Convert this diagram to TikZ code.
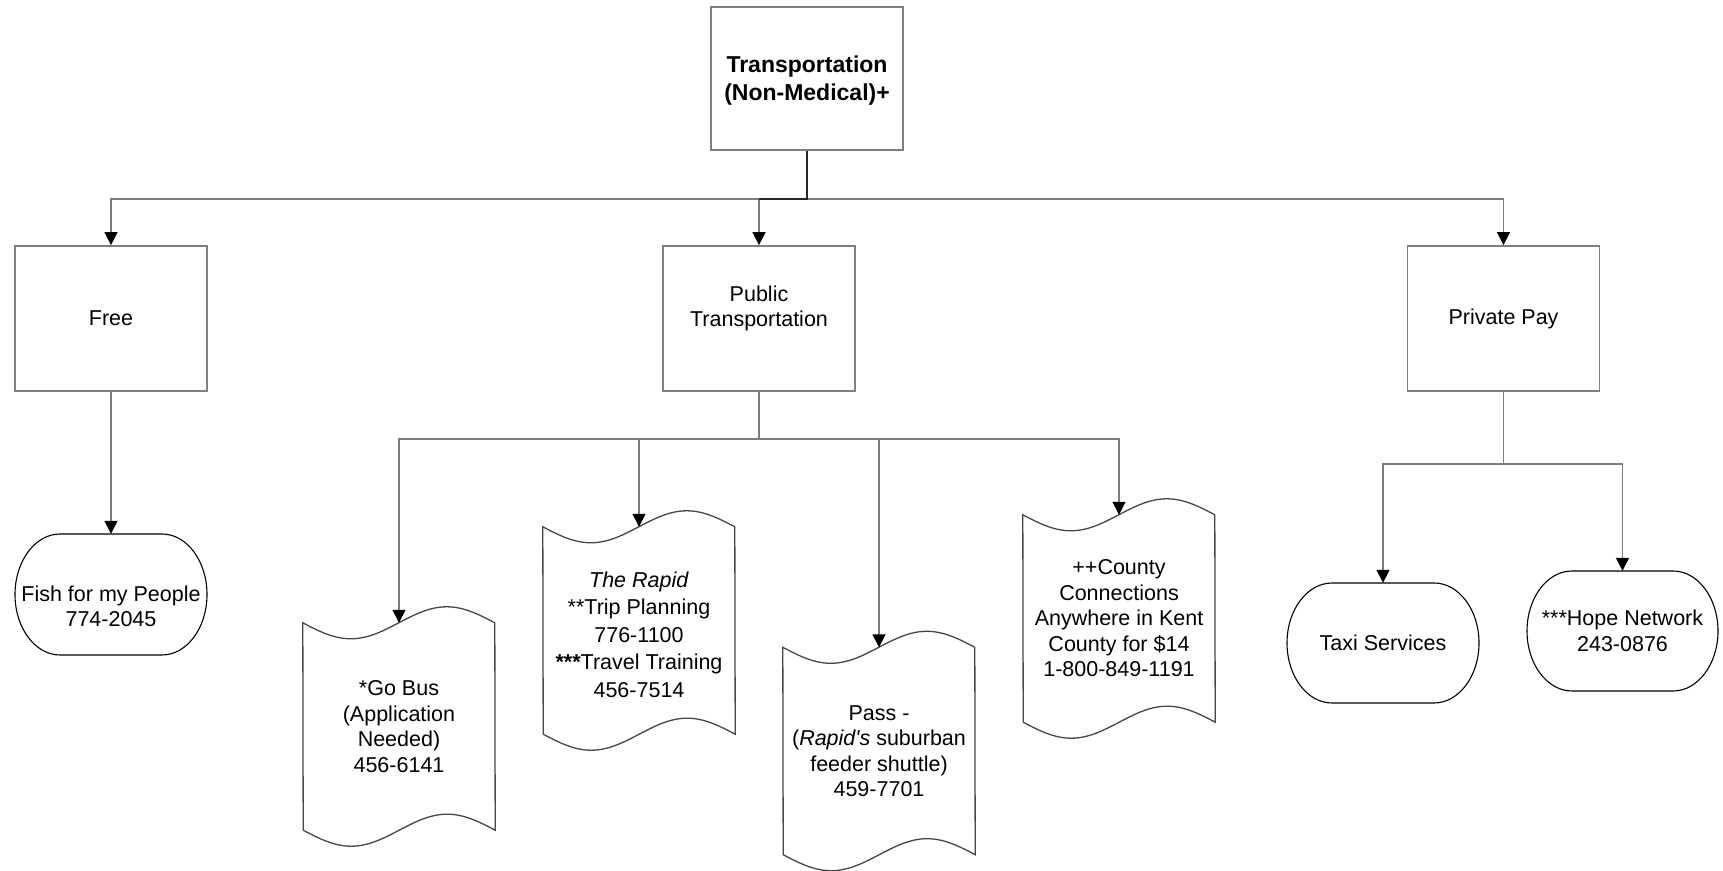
\documentclass[tikz,border=0pt]{standalone}
\usepackage{fontspec}
\setmainfont{Liberation Sans}
\usetikzlibrary{arrows.meta,calc}
\definecolor{boxgray}{RGB}{128,128,128}
\definecolor{linegray}{RGB}{125,125,125}
\definecolor{docgray}{RGB}{70,70,70}
\tikzset{
  every node/.style={font=\fontsize{21.5}{25.5}\selectfont},
  box/.style={draw=boxgray, line width=1.8pt, minimum width=192pt, minimum height=145pt, inner sep=0pt, align=center},
  holder/.style={draw=none, inner sep=0pt, align=center},
  conn/.style={draw=linegray, line width=1.5pt, -{Triangle[length=13pt,width=13pt,color=black]}},
  trunk/.style={draw=black!85, line width=1.8pt},
  docline/.style={draw=docgray, line width=1.3pt},
  termline/.style={draw=black, line width=1.1pt}
}
\newcommand\tapeoutline[1]{%
  \path[docline] (#1.north west) sin ++(48,-16) cos ++(48,16) sin ++(48,16) cos ++(48,-16)
    -- (#1.south east) sin ++(-48,16) cos ++(-48,-16) sin ++(-48,-16) cos ++(-48,16) -- cycle;}
\newcommand\termoutline[3]{% name, half width, half height
  \path[termline] ($(#1.center)+(-#2+45,#3)$) -- ($(#1.center)+(#2-45,#3)$)
    arc[start angle=90, end angle=-90, x radius=45, y radius=#3]
    -- ($(#1.center)+(-#2+45,-#3)$)
    arc[start angle=270, end angle=90, x radius=45, y radius=#3] -- cycle;}
\begin{document}
\begin{tikzpicture}[x=1pt,y=1pt]
\useasboundingbox (0,0) rectangle (1723,870);
% top level
\node[box, minimum height=143pt] (top) at (807,791.5) {};
\node[holder, font=\fontsize{23}{28}\selectfont\bfseries] (toplabel) at ([yshift=-2]top.center) {Transportation\\(Non-Medical)+};
\node[box] (free) at (111,551.5) {Free};
\node[box] (pub) at (759,551.5) {};
\node[holder] (publabel) at ([yshift=10]pub.center) {Public\\Transportation};
\node[box] (priv) at (1503.5,551.5) {Private Pay};
% terminals
\node[holder, minimum width=192pt, minimum height=121pt] (fish) at (111,275.5) {};
\node[holder] (fishlabel) at ([yshift=-12]fish.center) {Fish for my People\\774-2045};
\termoutline{fish}{96}{60.5}
\node[holder, minimum width=192pt, minimum height=120pt] (taxi) at (1383,227) {Taxi Services};
\termoutline{taxi}{96}{60}
\node[holder, minimum width=191pt, minimum height=120pt] (hope) at (1622.5,239) {***Hope Network\\243-0876};
\termoutline{hope}{95.5}{60}
% documents
\node[holder, minimum width=192pt, minimum height=207pt] (gobus) at (399,143.5) {*Go Bus\\(Application\\Needed)\\456-6141};
\tapeoutline{gobus}
\node[holder, minimum width=192pt, minimum height=207pt] (rapid) at (639,239.5) {};
\node[holder, font=\fontsize{21.5}{27.5}\selectfont] (rapidlabel) at ([yshift=-4]rapid.center) {\textit{The Rapid}\\**Trip Planning\\776-1100\\\textbf{***}Travel Training\\456-7514};
\tapeoutline{rapid}
\node[holder, minimum width=192pt, minimum height=207pt] (pass) at (879,119) {Pass -\\(\textit{Rapid\textquotesingle s} suburban\\feeder shuttle)\\459-7701};
\tapeoutline{pass}
\node[holder, minimum width=192pt, minimum height=207pt] (county) at (1119,251.5) {++County\\Connections\\Anywhere in Kent\\County for \$14\\1-800-849-1191};
\tapeoutline{county}
% junctions
\coordinate (j1) at ($(top.south)+(0,-48)$);
\coordinate (j2) at ($(pub.south)+(0,-47)$);
\coordinate (j3) at ($(priv.south)+(0,-72)$);
% connectors
\draw[conn] (top.south) -- (j1) -| (free.north);
\draw[conn] (top.south) -- (j1) -| (priv.north);
\draw[conn] (top.south) -- (j1) -| (pub.north);
\draw[trunk] (top.south) -- (j1) -- (j1 -| pub.north);
\draw[conn] (free.south) -- (fish.north);
\draw[conn] (pub.south) -- (j2) -| (gobus.north);
\draw[conn] (pub.south) -- (j2) -| (rapid.north);
\draw[conn] (pub.south) -- (j2) -| (pass.north);
\draw[conn] (pub.south) -- (j2) -| (county.north);
\draw[conn] (priv.south) -- (j3) -| (taxi.north);
\draw[conn] (priv.south) -- (j3) -| (hope.north);
\end{tikzpicture}
\end{document}
